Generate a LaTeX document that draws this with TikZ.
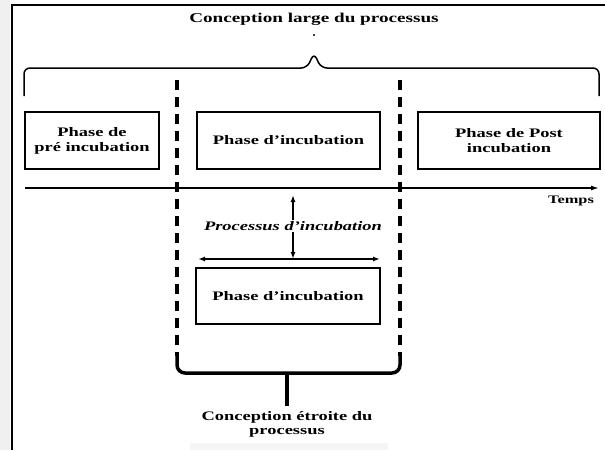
\documentclass[tikz,border=0pt]{standalone}
\usepackage{fontspec}
\setmainfont{Liberation Serif}[FakeStretch=1.42]
\usetikzlibrary{arrows.meta, positioning}
\tikzset{
    phasebox/.style={
        draw,
        line width=1.5pt,
        minimum height=57pt,
        inner sep=0pt,
        align=center,
        font=\fontsize{13}{15}\selectfont\bfseries
    },
    lbl/.style={
        align=center,
        inner sep=1pt,
        font=\fontsize{13}{14.5}\selectfont\bfseries
    },
    timeline/.style={-{Latex[length=8pt,width=5pt]}, line width=1.5pt},
    splitline/.style={line width=3.2pt, dash pattern=on 10pt off 7pt},
    every node/.style={font=\small}
}

\begin{document}
\begin{tikzpicture}[
    x=1pt,y=-1pt,
    widebrace/.style={line width=1.5pt, rounded corners=6pt},
    narrowbrace/.style={line width=3.5pt, rounded corners=8pt},
    smallarrow/.style={-{Latex[length=7pt,width=5pt]}, line width=1.4pt},
    spanarrow/.style={{Latex[length=7pt,width=5pt]}-{Latex[length=7pt,width=5pt]}, line width=1.4pt}
]
\useasboundingbox (0,0) rectangle (605,450);

% page edges
\fill[gray!12] (0,0) rectangle (10,450);
\fill[gray!8] (190,443) rectangle (388,450);
\draw[line width=2.5pt] (12,450) -- (12,5) -- (605,5);

% wide view
\node[lbl, font=\fontsize{13.5}{15}\selectfont\bfseries] (large) at (314,19) {Conception large du processus};
\fill (314,35) circle (1.2pt);
\draw[widebrace] (24,96) |- (307,68) -- (314,53) -- (321,68) -| (599,96);

% phases
\node[phasebox, minimum width=134pt] (pre) at (92,140.5) {Phase de\\pré incubation};
\node[phasebox, minimum width=183pt] (incub) at (288.5,140.5) {Phase d’incubation};
\node[phasebox, minimum width=182pt] (post) at (509,140.5) {Phase de Post\\incubation};

% time axis
\coordinate (t0) at (25,188);
\coordinate (t1) at (599,188);
\draw[timeline] (t0) -- (t1);
\node[lbl, font=\fontsize{11.5}{13}\selectfont\bfseries] (temps) at (571,201) {Temps};

% dashed bounds
\draw[splitline] (177,80) -- (177,356);
\draw[splitline] (400,80) -- (400,356);

% narrow view
\node[lbl, font=\fontsize{13}{14.5}\selectfont\bfseries\itshape] (proc) at (293,226) {Processus d’incubation};
\coordinate (uptip) at (293,195);
\coordinate (spanmid) at (293,259);
\coordinate (spanl) at (198,259);
\coordinate (spanr) at (380,259);
\draw[smallarrow] (proc.north) -- (uptip);
\draw[smallarrow] (proc.south) -- (spanmid);
\draw[spanarrow] (spanl) -- (spanr);
\node[phasebox, minimum width=184pt, minimum height=56pt] (inner) at (288,296) {Phase d’incubation};

\draw[narrowbrace] (177,355) |- (287,373) -| (400,355);
\coordinate (tip) at (287,406);
\draw[line width=3.5pt] (287,373) -- (tip);
\node[lbl, anchor=north] (narrow) at ([yshift=-4pt]tip) {Conception étroite du\\processus};

\end{tikzpicture}
\end{document}
